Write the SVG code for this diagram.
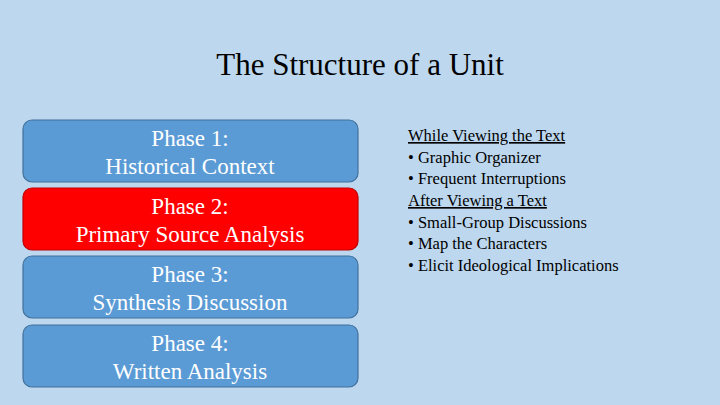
<svg xmlns="http://www.w3.org/2000/svg" width="720" height="405" viewBox="0 0 720 405">
<style>
.box{fill:#5b9bd5;stroke:#41719c;stroke-width:1.2}
.red{fill:#ff0000;stroke:#c00000}
.bt{font-family:"Liberation Serif",serif;font-size:23px;fill:#fff;text-anchor:middle}
.rt{font-family:"Liberation Serif",serif;font-size:16.5px;fill:#000}
</style>
<rect width="720" height="405" fill="#bdd7ee"/>
<text x="360" y="75" font-family="Liberation Serif,serif" font-size="31" text-anchor="middle">The Structure of a Unit</text>
<g id="phase1"><rect class="box" x="23" y="120" width="335" height="62" rx="9"/><text class="bt" x="190" y="146">Phase 1:</text><text class="bt" x="190" y="174">Historical Context</text></g>
<g id="phase2"><rect class="box red" x="23" y="188" width="335" height="62" rx="9"/><text class="bt" x="190" y="214">Phase 2:</text><text class="bt" x="190" y="242">Primary Source Analysis</text></g>
<g id="phase3"><rect class="box" x="23" y="256" width="335" height="62" rx="9"/><text class="bt" x="190" y="282">Phase 3:</text><text class="bt" x="190" y="310">Synthesis Discussion</text></g>
<g id="phase4"><rect class="box" x="23" y="325" width="335" height="62" rx="9"/><text class="bt" x="190" y="351">Phase 4:</text><text class="bt" x="190" y="379">Written Analysis</text></g>
<g id="connectors"/>
<g id="notes">
<text class="rt" x="408" y="141" text-decoration="underline">While Viewing the Text</text>
<text class="rt" x="408" y="163">•  Graphic Organizer</text>
<text class="rt" x="408" y="184">•  Frequent Interruptions</text>
<text class="rt" x="408" y="206" text-decoration="underline">After Viewing a Text</text>
<text class="rt" x="408" y="228">•  Small-Group Discussions</text>
<text class="rt" x="408" y="249">•  Map the Characters</text>
<text class="rt" x="408" y="271">•  Elicit Ideological Implications</text>
</g>
</svg>
